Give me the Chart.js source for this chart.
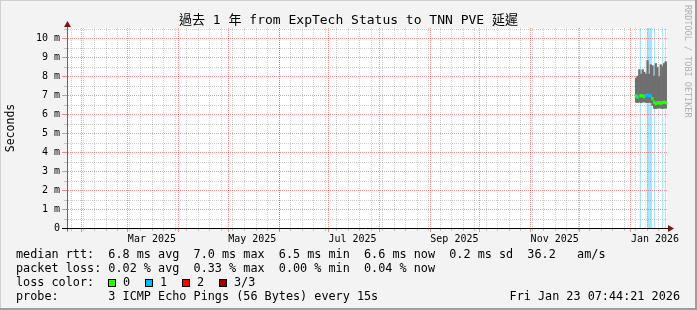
<!DOCTYPE html>
<html>
<head>
<meta charset="utf-8">
<script src="https://cdn.jsdelivr.net/npm/chart.js@4.4.1/dist/chart.umd.min.js"></script>
<style>
  body { margin: 0; background: #f3f3f3; }
  #wrap { position: relative; width: 697px; height: 310px; overflow: hidden; }
  #chart { position: absolute; left: 0; top: 0; }
  .txt { position: absolute; font-family: "DejaVu Sans Mono", monospace; color: #000; white-space: pre; font-size: 11.8px; line-height: 14px; }
  .box { position: absolute; width: 6px; height: 6px; border: 1px solid #000; }
  #credit { left: 683px; top: 5px; font-size: 8.5px; line-height: 10px; color: #b0b0b0; writing-mode: vertical-rl; }
</style>
</head>
<body>
<div id="wrap">
  <canvas id="chart" width="697" height="310"></canvas>
  <div class="txt" id="credit">RRDTOOL / TOBI OETIKER</div>
  <div class="txt" id="rttLine" style="left:16px;top:247px"></div>
  <div class="txt" id="lossLine" style="left:16px;top:261px"></div>
  <div class="txt" id="colorLine" style="left:16px;top:275px">loss color:</div>
  <div class="txt" id="probeLine" style="left:16px;top:289px"></div>
  <div class="txt" id="stamp" style="right:17px;top:289px"></div>
</div>
<script>
// time window: one year ending at the stamp time
const START = Date.UTC(2025, 0, 23, 7, 44, 21);
const DAY = 86400000;
const SPAN_DAYS = 365;
const Y_MAX = 10.53;
const dayOf = (s) => (Date.parse(s + "Z") - START) / DAY;

// daily buckets (only the last ~3 weeks hold data)
const bucketDates = [
  "2026-01-04", "2026-01-05", "2026-01-06", "2026-01-07", "2026-01-08",
  "2026-01-09", "2026-01-10", "2026-01-11", "2026-01-12", "2026-01-13",
  "2026-01-14", "2026-01-15", "2026-01-16", "2026-01-17", "2026-01-18",
  "2026-01-19", "2026-01-20", "2026-01-21", "2026-01-22", "2026-01-23",
];
const smokeMax = [7.9, 8.0, 8.34, 8.1, 8.34, 8.2, 8.1, 8.82, 8.1, 8.6, 8.55, 8.0, 8.66, 8.45, 7.97, 8.6, 8.5, 8.66, 8.76, 8.7];
const smokeMin = [6.62, 6.6, 6.63, 6.6, 6.62, 6.64, 6.61, 6.6, 6.62, 6.6, 6.45, 6.3, 6.28, 6.3, 6.32, 6.3, 6.29, 6.3, 6.31, 6.3];
const medianRtt = [6.95, 6.9, 6.93, 6.97, 6.95, 6.92, 6.98, 7.0, 6.97, 6.95, 6.8, 6.62, 6.55, 6.58, 6.6, 6.57, 6.6, 6.62, 6.6, 6.6];
const lossCount = [0, 0, 1, 0, 0, 0, 1, 1, 1, 1, 0, 0, 0, 0, 0, 0, 0, 0, 0, 0];

// periods with packet loss (light blue bands)
const lossFrom = ["2026-01-06T12:30", "2026-01-09T17:00", "2026-01-11T00:00", "2026-01-15T10:00", "2026-01-20T08:00", "2026-01-21T22:00"];
const lossTo   = ["2026-01-07T17:00", "2026-01-10T08:00", "2026-01-14T05:00", "2026-01-16T05:00", "2026-01-21T03:00", "2026-01-22T17:00"];

// axis labels
const xTickMonths = ["2025-03", "2025-05", "2025-07", "2025-09", "2025-11", "2026-01"];
const xTickLabels = ["Mar 2025", "May 2025", "Jul 2025", "Sep 2025", "Nov 2025", "Jan 2026"];
const yTickValues = [0, 1, 2, 3, 4, 5, 6, 7, 8, 9, 10];
const yTickLabels = ["0", "1 m", "2 m", "3 m", "4 m", "5 m", "6 m", "7 m", "8 m", "9 m", "10 m"];

// legend text
const rttStats = ["6.8 ms avg", "7.0 ms max", "6.5 ms min", "6.6 ms now", "0.2 ms sd", "36.2   am/s"];
const lossStats = ["0.02 % avg", "0.33 % max", "0.00 % min", "0.04 % now"];
const lossNames = ["0", "1", "2", "3/3"];
const lossColors = ["#26ff00", "#00b8ff", "#ff0000", "#a00000"];

const MONO = "'DejaVu Sans Mono', 'Noto Sans CJK TC', monospace";
const MEDIAN_HALF = 0.07;

document.getElementById("rttLine").textContent = "median rtt:  " + rttStats.join("  ");
document.getElementById("lossLine").textContent = "packet loss: " + lossStats.join("  ");
document.getElementById("probeLine").textContent = "probe:       3 ICMP Echo Pings (56 Bytes) every 15s";
document.getElementById("stamp").textContent = "Fri Jan 23 07:44:21 2026";
const wrap = document.getElementById("wrap");
lossNames.forEach((name, i) => {
  const box = document.createElement("div");
  box.className = "box";
  box.style.left = (108 + i * 37) + "px";
  box.style.top = "279px";
  box.style.background = lossColors[i];
  wrap.appendChild(box);
  const lab = document.createElement("div");
  lab.className = "txt";
  lab.textContent = name;
  lab.style.left = (123 + i * 37) + "px";
  lab.style.top = "275px";
  wrap.appendChild(lab);
});

const bucketX = bucketDates.map((d) => dayOf(d + "T12:00"));
const xTickDays = xTickMonths.map((m) => dayOf(m + "-01T00:00") + 15);

const bandPoints = [];
lossFrom.forEach((f, i) => {
  bandPoints.push({ x: dayOf(f), y: Y_MAX }, { x: dayOf(lossTo[i]), y: Y_MAX }, { x: dayOf(lossTo[i]), y: null });
});

const frame = {
  id: "frame",
  beforeDraw(chart) {
    const { ctx, width, height, chartArea: a } = chart;
    ctx.save();
    ctx.fillStyle = "#f3f3f3";
    ctx.fillRect(0, 0, width, height);
    ctx.fillStyle = "#cfcfcf";
    ctx.fillRect(0, 0, width, 1);
    ctx.fillRect(0, 0, 1, height);
    ctx.fillStyle = "#9e9e9e";
    ctx.fillRect(0, height - 2, width, 2);
    ctx.fillRect(width - 2, 0, 2, height);
    ctx.fillStyle = "#fff";
    ctx.fillRect(a.left, a.top, a.right - a.left, a.bottom - a.top);
    ctx.restore();
  },
};

// rrdtool style dotted grid, one pixel dots; drawn above the loss bands, below the smoke
function drawGrid(chart) {
  const { ctx, chartArea: a, scales: { x, y } } = chart;
  const minor = "rgba(120,120,120,0.38)";
  const major = "rgba(230,0,0,0.42)";
  const top = Math.round(a.top), bot = Math.round(a.bottom);
  const left = Math.round(a.left), right = Math.round(a.right);
  ctx.save();

  const vline = (v, color, tick) => {
    const px = Math.round(x.getPixelForValue(v));
    ctx.fillStyle = color;
    for (let py = bot - 2; py >= top; py -= 2) ctx.fillRect(px, py, 1, 1);
    ctx.fillRect(px, bot + 1, 1, tick);
  };
  const hline = (v, color, tick) => {
    const py = Math.round(y.getPixelForValue(v));
    ctx.fillStyle = color;
    for (let px = left + 1; px < right; px += 2) ctx.fillRect(px, py, 1, 1);
    ctx.fillRect(left - tick, py, tick, 1);
  };

  // weekly (Sunday) minor lines, monthly major lines
  const endMs = START + SPAN_DAYS * DAY;
  for (let t = Date.UTC(2025, 0, 26); t < endMs; t += 7 * DAY) vline((t - START) / DAY, minor, 2);
  for (let m = 1; m <= 12; m++) vline((Date.UTC(2025, m, 1) - START) / DAY, major, 3);
  for (let v = 0.5; v < Y_MAX; v += 0.5) hline(v, v % 1 === 0 ? major : minor, v % 1 === 0 ? 5 : 3);
  ctx.restore();
}

const rrdGrid = {
  id: "rrdGrid",
  afterDatasetDraw(chart, args) {
    if (args.index === 2) drawGrid(chart);
  },
  afterDatasetsDraw(chart) {
    const { ctx, chartArea: a, scales: { y } } = chart;
    const x0 = Math.round(a.left) + 0.5;
    const y0 = Math.round(y.getPixelForValue(0)) + 0.5;
    ctx.save();
    ctx.lineWidth = 1;
    ctx.strokeStyle = "#666";
    ctx.beginPath(); ctx.moveTo(x0, y0 + 3); ctx.lineTo(x0, a.top - 2); ctx.stroke();
    ctx.strokeStyle = "#000";
    ctx.beginPath(); ctx.moveTo(a.left - 5, y0); ctx.lineTo(a.right + 2, y0); ctx.stroke();
    ctx.fillStyle = "#7f1414";
    ctx.beginPath(); ctx.moveTo(a.right + 1, y0 - 3.5); ctx.lineTo(a.right + 7, y0); ctx.lineTo(a.right + 1, y0 + 3.5); ctx.fill();
    ctx.beginPath(); ctx.moveTo(x0 - 3.5, a.top - 1); ctx.lineTo(x0, a.top - 7); ctx.lineTo(x0 + 3.5, a.top - 1); ctx.fill();
    ctx.restore();
  },
};

Chart.defaults.font.family = MONO;
Chart.defaults.color = "#000";

new Chart(document.getElementById("chart"), {
  data: {
    datasets: [
      {
        type: "bar",
        label: "median rtt",
        order: 0,
        grouped: false,
        data: bucketX.map((x, i) => ({ x, y: [medianRtt[i] - MEDIAN_HALF, medianRtt[i] + MEDIAN_HALF] })),
        backgroundColor: lossCount.map((c) => lossColors[c]),
        barPercentage: 1,
        categoryPercentage: 1,
        borderWidth: 0,
      },
      {
        type: "bar",
        label: "smoke",
        order: 1,
        grouped: false,
        data: bucketX.map((x, i) => ({ x, y: [smokeMin[i], smokeMax[i]] })),
        backgroundColor: "#6f6f6f",
        barPercentage: 1,
        categoryPercentage: 1,
        borderWidth: 0,
      },
      {
        type: "line",
        label: "loss",
        order: 2,
        data: bandPoints,
        fill: "origin",
        backgroundColor: "#a8e4fb",
        borderWidth: 0,
        pointRadius: 0,
        spanGaps: false,
      },
    ],
  },
  options: {
    responsive: false,
    animation: false,
    devicePixelRatio: 1,
    plugins: {
      legend: { display: false },
      tooltip: { enabled: false },
      title: {
        display: true,
        text: "過去 1 年 from ExpTech Status to TNN PVE 延遲",
        font: { family: MONO, size: 13, weight: "normal" },
        color: "#000",
        padding: { top: 12.4, bottom: 0 },
      },
    },
    scales: {
      x: {
        type: "linear",
        min: 0,
        max: SPAN_DAYS,
        offset: false,
        afterFit: (s) => { s.height = 82; },
        afterBuildTicks: (s) => { s.ticks = xTickDays.map((v) => ({ value: v })); },
        ticks: { callback: (v, i) => xTickLabels[i], autoSkip: false, maxRotation: 0, padding: 5, font: { size: 10 } },
        grid: { display: false, drawTicks: false },
        border: { display: false },
      },
      y: {
        type: "linear",
        min: 0,
        max: Y_MAX,
        afterFit: (s) => { s.width = 67; },
        afterBuildTicks: (s) => { s.ticks = yTickValues.map((v) => ({ value: v })); },
        ticks: { callback: (v, i) => yTickLabels[i], padding: 7, font: { size: 10 } },
        grid: { display: false, drawTicks: false },
        border: { display: false },
        title: { display: true, text: "Seconds", font: { size: 11.5 }, padding: { top: 4, bottom: 0 } },
      },
      yR: {
        position: "right",
        display: true,
        afterFit: (s) => { s.width = 30; },
        ticks: { display: false },
        grid: { display: false, drawTicks: false },
        border: { display: false },
      },
    },
  },
  plugins: [frame, rrdGrid],
});
</script>
</body>
</html>
